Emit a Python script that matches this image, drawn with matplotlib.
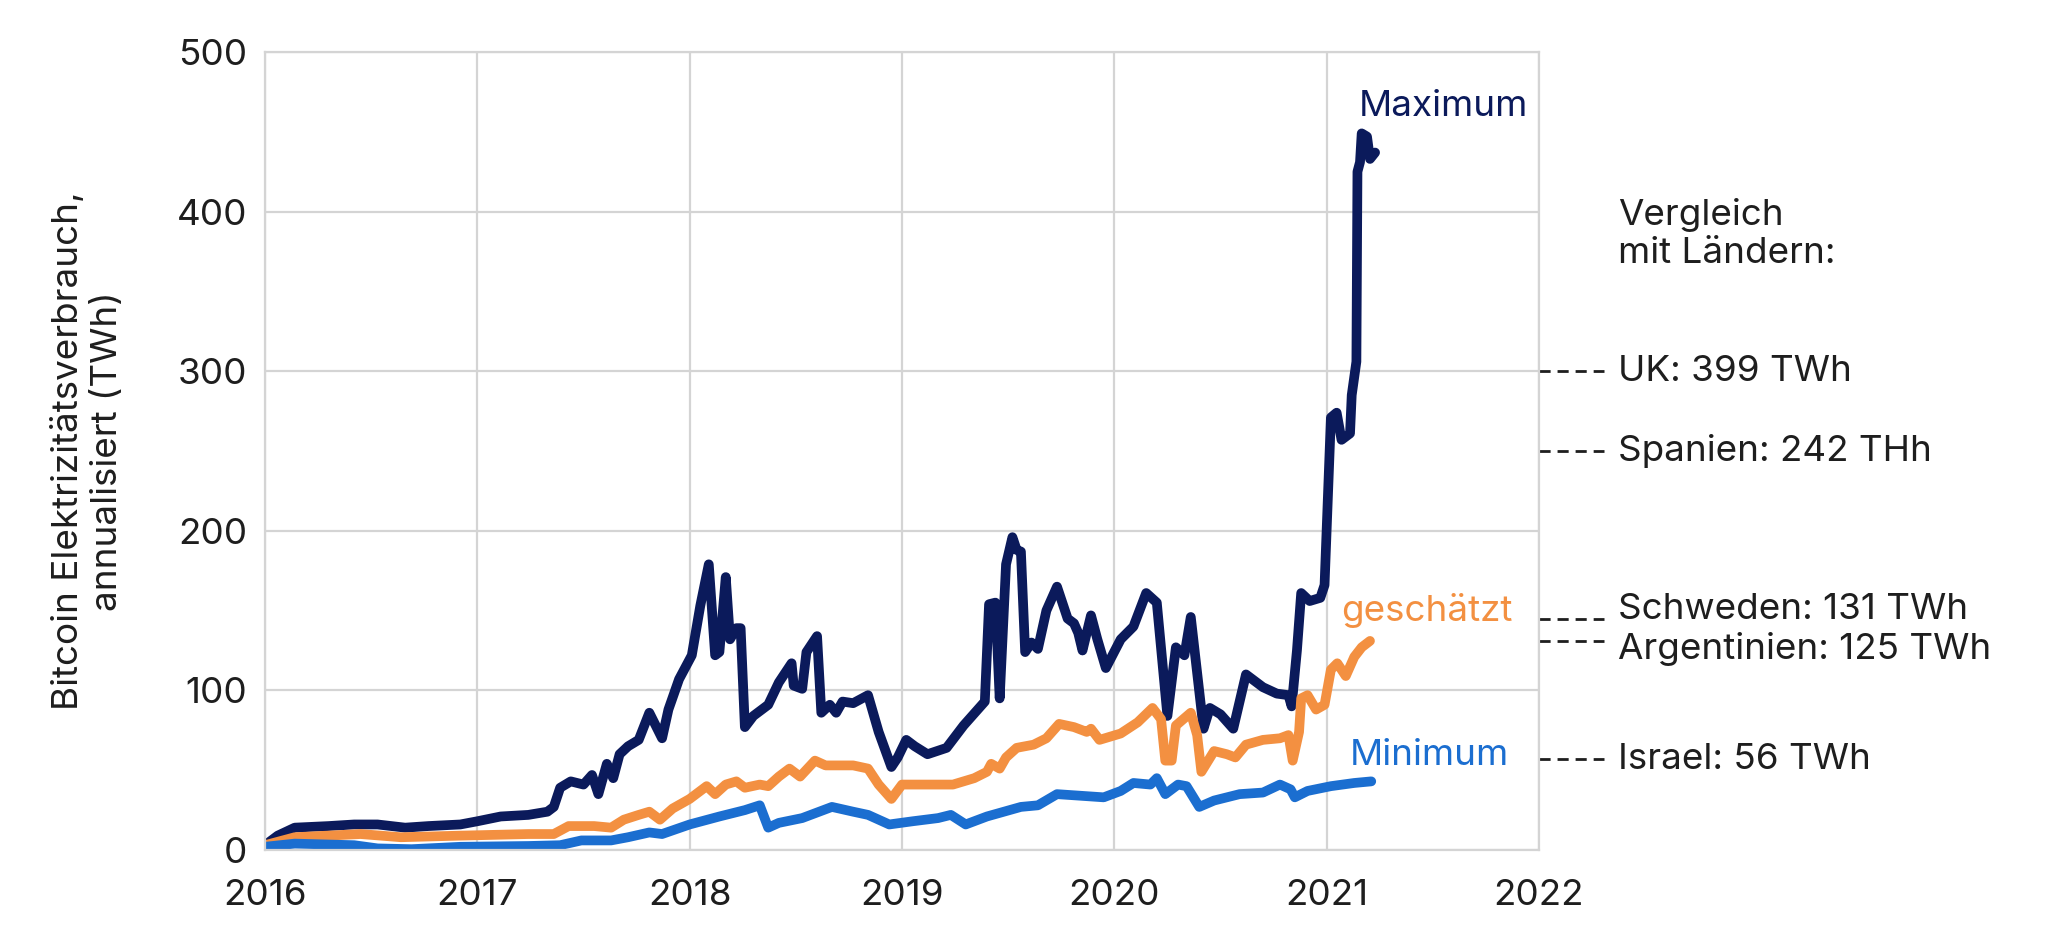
import matplotlib
matplotlib.use("Agg")
import matplotlib.pyplot as plt
import matplotlib.transforms as mtransforms

plt.rcParams['font.family'] = ['Inter', 'DejaVu Sans']

# annualised Bitcoin electricity use (TWh), decimal years
max_t = [2016.00, 2016.06, 2016.14, 2016.30, 2016.42, 2016.53, 2016.66, 2016.77, 2016.92, 2017.00,
         2017.11, 2017.24, 2017.33, 2017.36, 2017.39, 2017.44, 2017.50, 2017.54, 2017.57, 2017.61,
         2017.64, 2017.67, 2017.71, 2017.76, 2017.81, 2017.84, 2017.87, 2017.90, 2017.95, 2018.01,
         2018.05, 2018.09, 2018.12, 2018.14, 2018.17, 2018.19, 2018.22, 2018.24, 2018.26, 2018.30,
         2018.37, 2018.42, 2018.48, 2018.49, 2018.53, 2018.55, 2018.60, 2018.62, 2018.66, 2018.69,
         2018.72, 2018.77, 2018.84, 2018.89, 2018.95, 2018.98, 2019.02, 2019.06, 2019.12, 2019.21,
         2019.29, 2019.35, 2019.39, 2019.41, 2019.44, 2019.46, 2019.49, 2019.52, 2019.54, 2019.56,
         2019.58, 2019.61, 2019.64, 2019.68, 2019.73, 2019.78, 2019.81, 2019.83, 2019.85, 2019.89,
         2019.92, 2019.96, 2020.03, 2020.09, 2020.15, 2020.20, 2020.25, 2020.29, 2020.33, 2020.36,
         2020.42, 2020.45, 2020.50, 2020.56, 2020.59, 2020.62, 2020.70, 2020.765, 2020.82, 2020.835,
         2020.86, 2020.88, 2020.92, 2020.97, 2020.99, 2021.02, 2021.047, 2021.07, 2021.11, 2021.118,
         2021.14, 2021.145, 2021.157, 2021.165, 2021.19, 2021.204, 2021.228]
max_v = [3, 9, 14, 15, 16, 16, 14, 15, 16, 18,
         21, 22, 24, 27, 39, 43, 41, 47, 35, 54,
         45, 60, 65, 69, 86, 78, 70, 88, 107, 122,
         153, 179, 122, 124, 171, 132, 139, 139, 77, 84,
         91, 105, 117, 103, 101, 124, 134, 86, 91, 86,
         93, 92, 97, 74, 52, 58, 69, 65, 60, 64,
         78, 87, 93, 154, 155, 95, 179, 196, 188, 187,
         124, 130, 126, 150, 165, 145, 142, 136, 125, 147,
         132, 114, 132, 140, 161, 155, 84, 127, 122, 146,
         76, 89, 85, 76, 93, 110, 102, 98, 97, 90,
         125, 161, 156, 158, 166, 271, 274, 257, 261, 285,
         306, 425, 431, 449, 447, 433, 437]

est_t = [2016.00, 2016.14, 2016.45, 2016.64, 2016.92, 2017.24, 2017.36, 2017.43, 2017.55, 2017.63,
         2017.69, 2017.76, 2017.81, 2017.86, 2017.92, 2018.00, 2018.08, 2018.12, 2018.17, 2018.22,
         2018.26, 2018.33, 2018.37, 2018.42, 2018.47, 2018.52, 2018.59, 2018.64, 2018.77, 2018.84,
         2018.89, 2018.95, 2019.00, 2019.24, 2019.34, 2019.40, 2019.42, 2019.46, 2019.49, 2019.54,
         2019.62, 2019.68, 2019.74, 2019.81, 2019.87, 2019.89, 2019.93, 2020.03, 2020.11, 2020.18,
         2020.22, 2020.24, 2020.27, 2020.29, 2020.36, 2020.39, 2020.41, 2020.47, 2020.53, 2020.57,
         2020.62, 2020.70, 2020.78, 2020.82, 2020.84, 2020.87, 2020.88, 2020.91, 2020.95, 2020.99,
         2021.02, 2021.05, 2021.09, 2021.13, 2021.165, 2021.204]
est_v = [3, 8, 10, 8, 9, 10, 10, 15, 15, 14,
         19, 22, 24, 19, 26, 32, 40, 35, 41, 43,
         39, 41, 40, 46, 51, 46, 56, 53, 53, 51,
         41, 32, 41, 41, 45, 49, 54, 51, 58, 64,
         66, 70, 79, 77, 74, 76, 69, 73, 80, 89,
         82, 56, 56, 78, 86, 72, 49, 62, 60, 58,
         66, 69, 70, 72, 56, 74, 95, 97, 88, 91,
         113, 117, 109, 121, 127, 131]

min_t = [2016.00, 2016.14, 2016.42, 2016.53, 2016.69, 2016.92, 2017.24, 2017.39, 2017.49, 2017.63,
         2017.71, 2017.81, 2017.87, 2018.00, 2018.14, 2018.26, 2018.33, 2018.37, 2018.42, 2018.53,
         2018.61, 2018.67, 2018.77, 2018.84, 2018.94, 2019.05, 2019.17, 2019.23, 2019.30, 2019.40,
         2019.56, 2019.64, 2019.73, 2019.84, 2019.95, 2020.03, 2020.09, 2020.17, 2020.20, 2020.24,
         2020.30, 2020.34, 2020.40, 2020.47, 2020.59, 2020.70, 2020.78, 2020.83, 2020.85, 2020.91,
         2021.02, 2021.13, 2021.21]
min_v = [2, 4, 3, 1, 0.5, 2, 2.5, 3, 6, 6,
         8, 11, 10, 16, 21, 25, 28, 14, 17, 20,
         24, 27, 24, 22, 16, 18, 20, 22, 16, 21,
         27, 28, 35, 34, 33, 37, 42, 41, 45, 35,
         41, 40, 27, 31, 35, 36, 41, 38, 33, 37,
         40, 42, 43]

# country comparison labels: dash height and text height on the chart
countries = ["UK: 399 TWh", "Spanien: 242 THh", "Schweden: 131 TWh",
             "Argentinien: 125 TWh", "Israel: 56 TWh"]
dash_pos = [300, 250, 145, 131, 57]
text_pos = [300, 250, 151, 126, 57]

navy = "#0b1a5b"
orange = "#f39041"
blue = "#1b6ed0"
ink = "#1e1e1e"
fs = 26.5

fig = plt.figure(figsize=(20.48, 9.52), dpi=100)
ax = fig.add_axes([265 / 2048, 1 - 850 / 952, 1274 / 2048, 798 / 952])

line_kw = dict(linewidth=7, solid_joinstyle='round', solid_capstyle='round')
ax.plot(max_t, max_v, color=navy, **line_kw)
ax.plot(est_t, est_v, color=orange, **line_kw)
ax.plot(min_t, min_v, color=blue, **line_kw)

ax.set_xlim(2016, 2022)
ax.set_ylim(0, 500)
ax.set_xticks(range(2016, 2023))
ax.set_xticklabels([str(y) for y in range(2016, 2023)])
ax.set_yticks(range(0, 501, 100))
ax.tick_params(axis='both', length=0, labelsize=fs, colors=ink)
ax.tick_params(axis='y', pad=13)
ax.tick_params(axis='x', pad=21)
ax.grid(True, color='#d4d4d4', linewidth=1.6)
ax.set_axisbelow(True)
for s in ax.spines.values():
    s.set_color('#d4d4d4')
    s.set_linewidth(1.6)

ax.set_ylabel("Bitcoin Elektrizitätsverbrauch,\nannualisiert (TWh)", fontsize=fs,
              color=ink, linespacing=1.2, labelpad=38)

# series labels
ax.text(2021.15, 466, "Maximum", color=navy, fontsize=fs, va='center', ha='left')
ax.text(2021.07, 150, "geschätzt", color=orange, fontsize=fs, va='center', ha='left')
ax.text(2021.11, 59, "Minimum", color=blue, fontsize=fs, va='center', ha='left')

# comparison with countries, outside the plot
trans = mtransforms.blended_transform_factory(ax.transAxes, ax.transData)
ax.text(1.062, 386, "Vergleich\nmit Ländern:", transform=trans, fontsize=fs,
        color=ink, va='center', ha='left', linespacing=1.2, clip_on=False)
for name, dy, ty in zip(countries, dash_pos, text_pos):
    ax.plot([1.0, 1.051], [dy, dy], transform=trans, color=ink, linewidth=2,
            linestyle=(0, (4, 2.5)), clip_on=False)
    ax.text(1.062, ty, name, transform=trans, fontsize=fs, color=ink,
            va='center', ha='left', clip_on=False)

fig.savefig("out.png", dpi=100)
